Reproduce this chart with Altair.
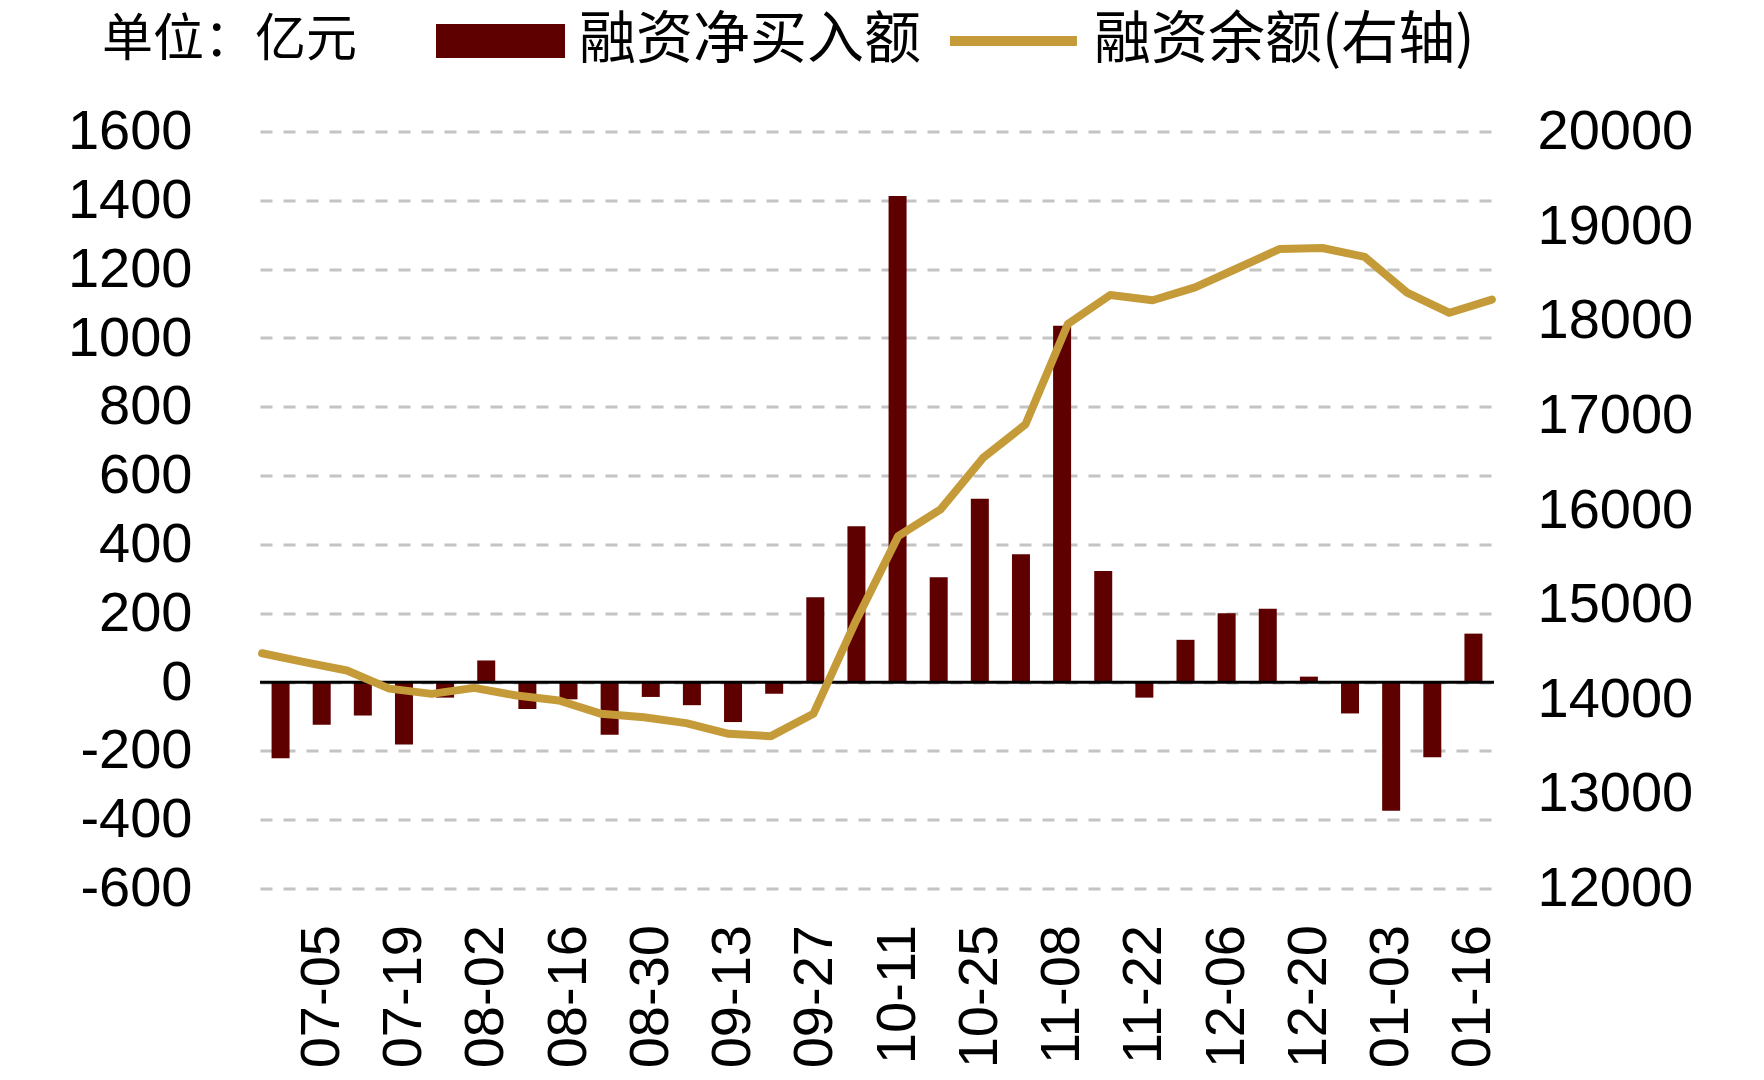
import altair as alt
import pandas as pd

dates = ["06-28", "07-05", "07-12", "07-19", "07-26", "08-02", "08-09", "08-16",
         "08-23", "08-30", "09-06", "09-13", "09-20", "09-27", "10-04", "10-11",
         "10-18", "10-25", "11-01", "11-08", "11-15", "11-22", "11-29", "12-06",
         "12-13", "12-20", "12-27", "01-03", "01-10", "01-16"]
net_buy = [-221, -124, -97, -181, -45, 63, -78, -50, -153, -43, -67, -116, -34, 247,
           453, 1413, 305, 533, 372, 1036, 323, -45, 123, 200, 213, 16, -91, -374,
           -218, 141]
balance = [14487, 14393, 14305, 14113, 14058, 14121, 14040, 13988, 13847, 13811,
           13749, 13636, 13611, 13847, 14826, 15725, 16008, 16551, 16905, 17967,
           18273, 18218, 18353, 18556, 18760, 18770, 18676, 18298, 18085, 18225]
tick_labels = dates[1::2]
left_ticks = list(range(-600, 1601, 200))
right_ticks = list(range(12000, 20001, 1000))
bar_name = "融资净买入额"
line_name = "融资余额(右轴)"
unit_text = "单位：亿元"

df = pd.DataFrame({"date": dates, "net": net_buy, "bal": balance,
                   "s1": bar_name, "s2": line_name})
zero_df = pd.DataFrame({"zero": [0]})

W, H = 1234, 757
NUM_FONT = "Liberation Sans"
CJK_FONT = "Noto Sans CJK SC"
PLAIN = "'' + datum.value"

bars = alt.Chart(df).mark_bar(size=18).encode(
    x=alt.X("date:N", sort=dates,
            scale=alt.Scale(paddingInner=0, paddingOuter=0),
            axis=alt.Axis(values=tick_labels, labelAngle=270, labelFontSize=56,
                          labelFont=NUM_FONT, labelColor="black", labelPadding=36,
                          ticks=False, domain=False, title=None, grid=False,
                          labelOverlap=False)),
    y=alt.Y("net:Q", scale=alt.Scale(domain=[-600, 1600], nice=False, zero=False),
            axis=alt.Axis(values=left_ticks, labelFontSize=56, labelFont=NUM_FONT,
                          labelColor="black", labelPadding=68, ticks=False,
                          labelExpr=PLAIN,
                          domain=False, title=None, grid=True, gridColor="#C4C4C4",
                          gridWidth=3, gridDash=[12, 11])),
    fill=alt.Fill("s1:N", scale=alt.Scale(domain=[bar_name], range=["#5E0000"]),
                  legend=alt.Legend(orient="none", legendX=-158, legendY=-119,
                                    title=unit_text, titleOrient="left",
                                    titleAnchor="middle",
                                    titleFont=CJK_FONT, titleFontSize=51,
                                    titleFontWeight="normal", titleColor="black",
                                    titlePadding=69, titleLimit=600,
                                    titleBaseline="middle",
                                    labelFont=CJK_FONT, labelFontSize=57,
                                    labelColor="black", labelLimit=600,
                                    labelOffset=95, padding=0,
                                    symbolType="M-1,-0.872H5.615V0.872H-1Z",
                                    symbolSize=1521, symbolStrokeWidth=0)),
)

zero_rule = alt.Chart(zero_df).mark_rule(color="black", strokeWidth=3).encode(
    y=alt.Y("zero:Q")
)

line = alt.Chart(df).mark_line(strokeWidth=8, strokeCap="round",
                               strokeJoin="round").encode(
    x=alt.X("date:N", sort=dates, scale=alt.Scale(type="point", padding=0.05),
            axis=None),
    y=alt.Y("bal:Q", scale=alt.Scale(domain=[12000, 20000], nice=False, zero=False),
            axis=alt.Axis(orient="right", values=right_ticks, labelFontSize=56,
                          labelFont=NUM_FONT, labelColor="black", labelPadding=43,
                          labelExpr=PLAIN,
                          ticks=False, domain=False, title=None, grid=False)),
    stroke=alt.Stroke("s2:N", scale=alt.Scale(domain=[line_name], range=["#C49B38"]),
                      legend=alt.Legend(orient="none", legendX=681, legendY=-119,
                                        title=None, labelFont=CJK_FONT,
                                        labelFontSize=57, labelColor="black",
                                        labelLimit=600, labelOffset=96, padding=0,
                                        symbolType="M-1,0H5.51",
                                        symbolSize=1521,
                                        symbolStrokeWidth=10)),
)

chart = alt.layer(alt.layer(bars, zero_rule), line).resolve_scale(
    y="independent", x="independent"
).properties(
    width=W, height=H,
    autosize=alt.AutoSizeParams(type="none"),
    padding={"left": 260, "top": 131.6, "right": 270, "bottom": 191},
    background="white",
).configure_view(strokeWidth=0)

chart.save("out.html", embed_options={"renderer": "svg", "actions": False})
